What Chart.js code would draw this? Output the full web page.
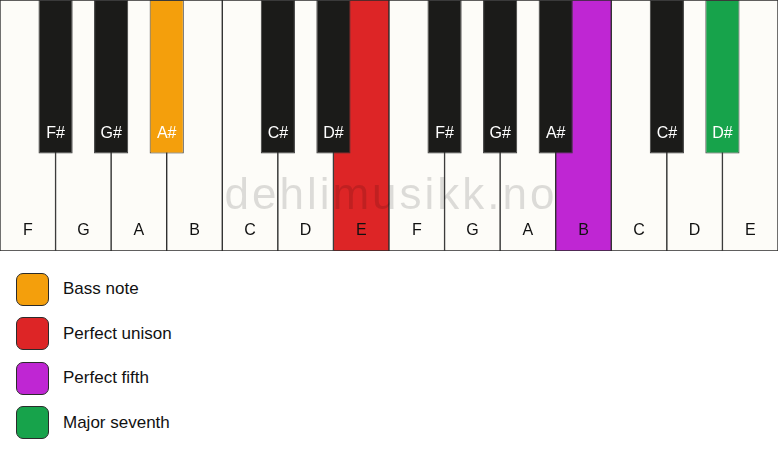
<!DOCTYPE html>
<html>
<head>
<meta charset="utf-8">
<script src="https://cdn.jsdelivr.net/npm/chart.js@4.4.1/dist/chart.umd.min.js"></script>
<style>
    body { margin: 0; background: #ffffff; font-family: "Liberation Sans", Arial, sans-serif; }
    #keyboard { position: relative; width: 778px; height: 251px; }
    #legend { margin-top: 21px; }
    .legend-row { display: flex; align-items: center; height: 34px; margin-bottom: 10.5px; }
    .legend-box { width: 31px; height: 31px; margin-left: 16px; border: 1.5px solid #2b2b2b; border-radius: 7px; }
    .legend-text { margin-left: 14px; font-size: 17px; color: #111; }
</style>
</head>
<body>
<div id="keyboard"><canvas id="pianoChart"></canvas></div>
<div id="legend"></div>

<script>
// white keys, left to right
const whiteKeys = ["F", "G", "A", "B", "C", "D", "E", "F", "G", "A", "B", "C", "D", "E"];
const whiteRoles = [null, null, null, null, null, null, "unison", null, null, null, "fifth", null, null, null];

// black keys sit on the boundaries between white keys (boundary 1 = between key 0 and key 1)
const blackKeys = ["F#", "G#", "A#", "C#", "D#", "F#", "G#", "A#", "C#", "D#"];
const blackSlots = [1, 2, 3, 5, 6, 8, 9, 10, 12, 13];
const blackRoles = [null, null, "bass", null, null, null, null, null, null, "seventh"];

const whiteLength = 1;
const blackLength = 0.612;

const legendRoles = ["bass", "unison", "fifth", "seventh"];
const legendLabels = ["Bass note", "Perfect unison", "Perfect fifth", "Major seventh"];

const roleColors = {
    bass: "#f49f0c",
    unison: "#dd2526",
    fifth: "#bf26d3",
    seventh: "#17a34b"
};
const roleTextColors = {
    bass: "#ffffff",
    unison: "#111111",
    fifth: "#111111",
    seventh: "#ffffff"
};

// boundary axis: 15 labels (0..14) so every black key lands on a key edge
const boundaryLabels = Array.from({ length: whiteKeys.length + 1 }, (_, i) => String(i));
const blackData = boundaryLabels.map(() => null);
const blackNames = boundaryLabels.map(() => "");
const blackColors = boundaryLabels.map(() => "#1b1b19");
const blackText = boundaryLabels.map(() => "#ffffff");
blackSlots.forEach((slot, i) => {
    blackData[slot] = [0, blackLength];
    blackNames[slot] = blackKeys[i];
    if (blackRoles[i]) {
        blackColors[slot] = roleColors[blackRoles[i]];
        blackText[slot] = roleTextColors[blackRoles[i]];
    }
});

const keyLabelPlugin = {
    id: "keyLabels",
    afterDatasetsDraw(chart) {
        const ctx = chart.ctx;
        const y = chart.scales.y;
        const area = chart.chartArea;

        // watermark
        ctx.save();
        ctx.font = "44px 'Liberation Sans', Arial, sans-serif";
        ctx.letterSpacing = "3px";
        ctx.fillStyle = "rgba(0,0,0,0.13)";
        ctx.textAlign = "center";
        ctx.textBaseline = "alphabetic";
        ctx.fillText("dehlimusikk.no", (area.left + area.right) / 2 + 2, y.getPixelForValue(0.831));
        ctx.restore();

        ctx.save();
        ctx.font = "16px 'Liberation Sans', Arial, sans-serif";
        ctx.textAlign = "center";
        ctx.textBaseline = "middle";
        chart.data.datasets.forEach((ds, di) => {
            const meta = chart.getDatasetMeta(di);
            meta.data.forEach((bar, i) => {
                if (!ds.names[i]) return;
                ctx.fillStyle = ds.textColors[i];
                ctx.fillText(ds.names[i], bar.x, y.getPixelForValue(ds.labelLevel));
            });
        });
        ctx.restore();
    }
};

new Chart(document.getElementById("pianoChart").getContext("2d"), {
    type: "bar",
    data: {
        labels: whiteKeys,
        datasets: [
            {
                label: "black",
                xAxisID: "xb",
                data: blackData,
                names: blackNames,
                textColors: blackText,
                labelLevel: 0.532,
                backgroundColor: blackColors,
                borderColor: "#3a3a3a",
                borderWidth: 1,
                borderSkipped: false,
                grouped: false,
                barPercentage: 0.615,
                categoryPercentage: 1,
                order: 1
            },
            {
                label: "white",
                xAxisID: "xw",
                data: whiteKeys.map(() => [0, whiteLength]),
                names: whiteKeys,
                textColors: whiteRoles.map(r => r ? roleTextColors[r] : "#111111"),
                labelLevel: 0.92,
                backgroundColor: whiteRoles.map(r => r ? roleColors[r] : "#fdfcf8"),
                borderColor: "#2b2b2b",
                borderWidth: 1,
                borderSkipped: false,
                grouped: false,
                barPercentage: 1,
                categoryPercentage: 1,
                order: 2
            }
        ]
    },
    options: {
        responsive: true,
        maintainAspectRatio: false,
        animation: false,
        layout: { padding: 0 },
        plugins: {
            legend: { display: false },
            tooltip: { enabled: false }
        },
        scales: {
            xw: {
                type: "category",
                labels: whiteKeys,
                offset: true,
                display: false
            },
            xb: {
                type: "category",
                labels: boundaryLabels,
                offset: false,
                display: false
            },
            y: {
                type: "linear",
                reverse: true,
                min: 0,
                max: 1,
                display: false
            }
        }
    },
    plugins: [keyLabelPlugin]
});

const legend = document.getElementById("legend");
legendRoles.forEach((role, i) => {
    const row = document.createElement("div");
    row.className = "legend-row";
    row.innerHTML = `<div class="legend-box" style="background:${roleColors[role]}"></div>` +
        `<div class="legend-text">${legendLabels[i]}</div>`;
    legend.appendChild(row);
});
</script>
</body>
</html>
